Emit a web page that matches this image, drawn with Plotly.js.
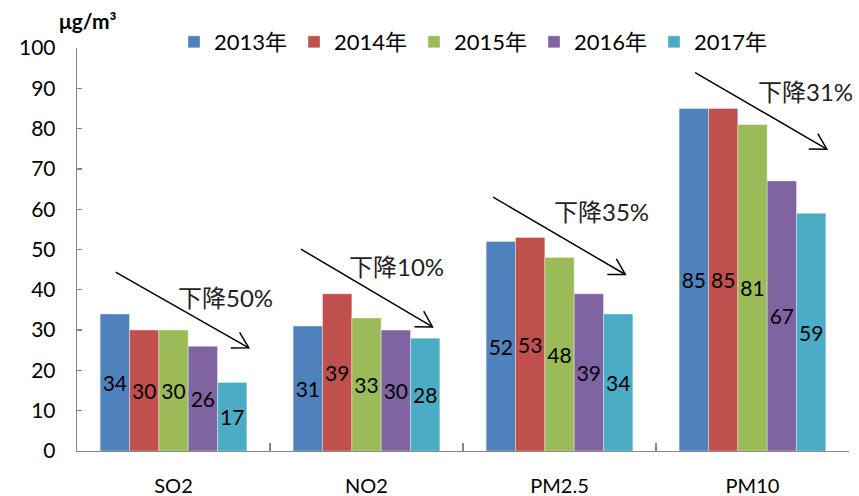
<!DOCTYPE html>
<html><head><meta charset="utf-8">
<script src="https://cdn.plot.ly/plotly-3.0.1.min.js"></script>
<style>html,body{margin:0;padding:0;background:#fff}</style>
</head><body><div id="chart" style="width:859px;height:496px"></div>
<script>
const categories = ['SO2','NO2','PM2.5','PM10'];
const years = ['2013年','2014年','2015年','2016年','2017年'];
const v2013 = [34,31,52,85];
const v2014 = [30,39,53,85];
const v2015 = [30,33,48,81];
const v2016 = [26,30,39,67];
const v2017 = [17,28,34,59];
const seriesValues = [v2013, v2014, v2015, v2016, v2017];
const colors = ['#4F81BD','#C0504D','#9BBB59','#8064A2','#4BACC6'];
const dropLabels = ['下降50%','下降10%','下降35%','下降31%'];
// decline arrows: start/end as [category index, value]
const arrowStart = [[-0.30,44.4],[0.66,50.1],[1.656,63.0],[2.703,93.9]];
const arrowEnd   = [[0.39,25.6],[1.342,30.8],[2.341,43.8],[3.385,74.9]];
const labelPos   = [[0.271,38.0],[1.158,45.7],[2.220,59.4],[3.275,89.2]];

const W = 859, H = 496;
const M = {l:77, r:10, t:48, b:45};
const PW = W - M.l - M.r, PH = H - M.t - M.b;
const fx = i => (i + 0.5) / categories.length;
const fy = v => v / 100;

const font = 'Lato, "Noto Sans CJK SC", sans-serif';

const traces = seriesValues.map((vals, k) => ({
  type: 'bar',
  name: years[k],
  x: categories,
  y: vals,
  text: vals.map(String),
  textposition: 'inside',
  insidetextanchor: 'middle',
  constraintext: 'none',
  textfont: {family: font, size: 21, color: '#000'},
  marker: {color: colors[k], line: {width: 0.6, color: 'rgba(255,255,255,0.6)'}},
  hoverinfo: 'skip'
}));

const shapes = [];
const annotations = [];
arrowStart.forEach((s, k) => {
  const e = arrowEnd[k];
  const x0 = fx(s[0]), y0 = fy(s[1]), x1 = fx(e[0]), y1 = fy(e[1]);
  shapes.push({type:'line', xref:'paper', yref:'paper', x0:x0, y0:y0, x1:x1, y1:y1,
    line:{color:'#000', width:1.5}});
  // arrowhead in pixel space
  const dxp = (x1 - x0) * PW, dyp = -(y1 - y0) * PH; // screen coords, y down
  const ang = Math.atan2(dyp, dxp) + Math.PI;
  const L = 18, a = Math.PI / 6;
  const pts = [ang - a, ang + a].map(t => [x1 + L * Math.cos(t) / PW, y1 - L * Math.sin(t) / PH]);
  shapes.push({type:'path', xref:'paper', yref:'paper',
    path: `M${pts[0][0]},${pts[0][1]} L${x1},${y1} L${pts[1][0]},${pts[1][1]}`,
    line:{color:'#000', width:1.5}});
  annotations.push({xref:'paper', yref:'paper', x: fx(labelPos[k][0]), y: fy(labelPos[k][1]),
    text: dropLabels[k], showarrow:false, xanchor:'center', yanchor:'middle',
    font:{family: font, size: 24, color:'#222'}});
});
annotations.push({xref:'paper', yref:'paper', x: (88 - M.l) / PW, y: 1 + (M.t - 20) / PH,
  text:'<b>μg/m³</b>', showarrow:false, xanchor:'center', yanchor:'middle',
  font:{family: font, size: 21, color:'#000'}});

const layout = {
  width: W, height: H,
  margin: M,
  paper_bgcolor:'#fff', plot_bgcolor:'#fff',
  barmode:'group', bargap:0.24, bargroupgap:0,
  showlegend:true,
  legend:{orientation:'h', x:(174 - M.l)/PW, xanchor:'left', y:1 + (M.t - 42)/PH, yanchor:'middle',
    font:{family: font, size: 22, color:'#000'}, entrywidth:75, entrywidthmode:'pixels',
    bgcolor:'rgba(0,0,0,0)'},
  xaxis:{type:'category', showline:true, linecolor:'#868686', linewidth:1.3,
    ticks:'inside', tickson:'boundaries', ticklen:8, tickcolor:'#868686', tickwidth:1.3,
    tickfont:{family: font, size: 20, color:'#000'}, ticklabelstandoff: 17,
    showgrid:false, zeroline:false, fixedrange:true},
  yaxis:{range:[0,100], dtick:10, showline:true, linecolor:'#868686', linewidth:1.3,
    ticks:'inside', ticklen:5, tickcolor:'#868686', tickwidth:1.3,
    tickfont:{family: font, size: 21, color:'#000'}, ticklabelstandoff: 16,
    showgrid:false, zeroline:false, fixedrange:true},
  shapes: shapes,
  annotations: annotations,
  hovermode:false
};
Plotly.newPlot('chart', traces, layout, {displayModeBar:false, staticPlot:true});
</script></body></html>
